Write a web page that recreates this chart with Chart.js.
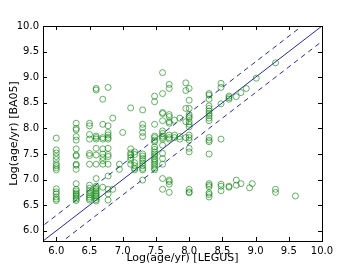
<!DOCTYPE html>
<html>
<head>
<meta charset="utf-8">
<script src="https://cdn.jsdelivr.net/npm/chart.js@4"></script>
<style>
  body { margin: 0; background: #fff; }
  canvas { display: block; }
</style>
</head>
<body>
<canvas id="chart" width="357" height="268"></canvas>
<script>
// LEGUS ages (x) come in columns; each column has its list of BA05 ages (y)
var legusCols = [6.0, 6.3, 6.5, 6.6, 6.7, 6.78, 6.85, 6.95, 7.0, 7.12, 7.18, 7.3, 7.48, 7.6, 7.7,
                 7.78, 7.86, 7.95, 8.0, 8.3, 8.48, 8.6, 8.71, 8.78, 8.86, 8.91, 8.95, 9.01, 9.3, 9.6];
var ba05ByCol = [
    [7.81, 7.58, 7.52, 7.45, 7.39, 7.31, 7.27, 7.23, 7.19, 6.82, 6.76, 6.72, 6.66, 6.62, 6.59],
    [8.10, 8.00, 7.97, 7.84, 7.77, 7.60, 7.48, 7.46, 7.30, 7.28, 7.20, 6.92, 6.81, 6.78, 6.74, 6.71, 6.68, 6.65, 6.62, 6.59],
    [8.10, 8.05, 7.88, 7.79, 7.51, 7.47, 7.30, 6.89, 6.83, 6.78, 6.74, 6.70, 6.66, 6.63, 6.60],
    [8.78, 8.75, 7.85, 7.82, 7.79, 7.61, 7.48, 7.30, 7.02, 6.87, 6.84, 6.81, 6.78, 6.74, 6.71, 6.68, 6.65, 6.61, 6.58],
    [8.57, 8.08, 7.82, 7.79, 7.60, 7.50, 7.43, 7.37, 7.30, 6.85],
    [8.80, 8.05, 7.92, 7.87, 7.82, 7.79, 7.61, 7.49, 7.45, 7.30, 7.07, 6.81, 6.72, 6.60],
    [8.20, 6.81],
    [7.30, 7.20],
    [7.92],
    [8.40, 7.60, 7.52, 7.48, 7.43, 7.38, 7.30],
    [7.54, 7.49, 7.33, 7.27, 7.22, 7.19],
    [8.36, 8.08, 8.01, 7.92, 7.84, 7.50, 7.46, 7.41, 7.37, 7.32, 7.27, 7.22, 7.19, 6.99],
    [8.63, 8.52, 8.08, 7.85, 7.82, 7.77, 7.74, 7.64, 7.59, 7.54, 7.50, 7.46, 7.41, 7.38, 7.34, 7.30, 7.26, 7.22, 7.19],
    [9.09, 8.68, 8.31, 8.29, 8.15, 7.95, 7.90, 7.85, 7.82, 7.79, 7.67, 7.51, 7.41, 7.30, 7.02, 6.81],
    [8.86, 8.78, 8.27, 8.23, 8.13, 8.10, 7.87, 7.82, 7.79, 6.99, 6.96, 6.91, 6.75],
    [8.16, 7.87, 7.82],
    [8.20, 7.84, 7.79],
    [8.89, 8.74, 8.39, 8.13, 7.82],
    [8.78, 8.55, 8.39, 8.27, 8.23, 8.20, 8.13, 8.08, 8.03, 7.87, 7.82, 7.77, 7.61, 7.54, 6.81, 6.76, 6.74],
    [8.68, 8.65, 8.57, 8.44, 8.39, 8.34, 8.29, 8.25, 8.20, 8.15, 7.82, 7.77, 7.74, 7.50, 6.92, 6.89, 6.86, 6.74, 6.71, 6.66],
    [8.88, 8.80, 8.48, 7.79, 6.91, 6.87, 6.78],
    [8.63, 8.60, 8.57, 6.87, 6.85],
    [8.62, 6.99, 6.89],
    [8.70, 6.92],
    [8.78],
    [6.84],
    [6.92],
    [8.98],
    [9.28, 6.81, 6.75],
    [6.68]
];

// one-to-one line and the +/- offset lines
var lineEnds = [5.5, 10.0];
var lineOffset = 0.3;

var axisMin = 5.8, axisMax = 10.0;
var xTicks = [6.0, 6.5, 7.0, 7.5, 8.0, 8.5, 9.0, 9.5, 10.0];
var yTicks = [6.0, 6.5, 7.0, 7.5, 8.0, 8.5, 9.0, 9.5, 10.0];

var points = [];
legusCols.forEach(function(x, i) {
    ba05ByCol[i].forEach(function(y) {
        points.push({x: x, y: y});
    });
});

function lineData(off) {
    return lineEnds.map(function(v) { return {x: v, y: v + off}; });
}

// matplotlib-style frame with inward ticks on all four sides
var frameTicks = {
    id: 'frameTicks',
    afterDatasetsDraw: function(chart) {
        var ctx = chart.ctx, a = chart.chartArea;
        var xs = chart.scales.x, ys = chart.scales.y;
        var len = 4;
        ctx.save();
        ctx.strokeStyle = '#000';
        ctx.lineWidth = 1;
        ctx.beginPath();
        xTicks.forEach(function(v) {
            var px = Math.round(xs.getPixelForValue(v)) + 0.5;
            ctx.moveTo(px, a.bottom); ctx.lineTo(px, a.bottom - len);
            ctx.moveTo(px, a.top); ctx.lineTo(px, a.top + len);
        });
        yTicks.forEach(function(v) {
            var py = Math.round(ys.getPixelForValue(v)) + 0.5;
            ctx.moveTo(a.left, py); ctx.lineTo(a.left + len, py);
            ctx.moveTo(a.right, py); ctx.lineTo(a.right - len, py);
        });
        ctx.stroke();
        ctx.strokeRect(Math.round(a.left) + 0.5, Math.round(a.top) + 0.5,
                       Math.round(a.right - a.left), Math.round(a.bottom - a.top));
        ctx.restore();
    }
};

var ctx = document.getElementById('chart').getContext('2d');
var chart = new Chart(ctx, {
    type: 'scatter',
    data: {
        datasets: [{
            label: 'clusters',
            data: points,
            showLine: false,
            pointStyle: 'circle',
            pointRadius: 3,
            pointBorderWidth: 1,
            borderColor: 'rgba(0,128,0,0.6)',
            backgroundColor: 'rgba(0,0,0,0)'
        }, {
            label: '1:1',
            type: 'line',
            data: lineData(0),
            borderColor: 'rgb(40,40,170)',
            borderWidth: 1,
            pointRadius: 0
        }, {
            label: '+off',
            type: 'line',
            data: lineData(lineOffset),
            borderColor: 'rgb(40,40,170)',
            borderWidth: 1,
            borderDash: [5, 4],
            pointRadius: 0
        }, {
            label: '-off',
            type: 'line',
            data: lineData(-lineOffset),
            borderColor: 'rgb(40,40,170)',
            borderWidth: 1,
            borderDash: [5, 4],
            pointRadius: 0
        }]
    },
    options: {
        responsive: false,
        animation: false,
        events: [],
        layout: { padding: { top: 26, right: 35, left: 0, bottom: 0 } },
        plugins: { legend: { display: false }, tooltip: { enabled: false } },
        scales: {
            x: {
                type: 'linear',
                min: axisMin,
                max: axisMax,
                grid: { display: false, drawTicks: false },
                border: { display: false },
                afterBuildTicks: function(scale) {
                    scale.ticks = xTicks.map(function(v) { return {value: v}; });
                },
                afterFit: function(scale) { scale.height = 27; },
                ticks: {
                    padding: 4,
                    maxRotation: 0,
                    color: '#000',
                    font: { family: 'DejaVu Sans', size: 10 },
                    callback: function(v) { return v.toFixed(1); }
                },
                title: {
                    display: true,
                    text: 'Log(age/yr) [LEGUS]',
                    color: '#000',
                    font: { family: 'DejaVu Sans', size: 11 },
                    padding: { top: 0, bottom: 3 }
                }
            },
            y: {
                type: 'linear',
                min: axisMin,
                max: axisMax,
                grid: { display: false, drawTicks: false },
                border: { display: false },
                afterBuildTicks: function(scale) {
                    scale.ticks = yTicks.map(function(v) { return {value: v}; });
                },
                afterFit: function(scale) { scale.width = 43; },
                ticks: {
                    padding: 4,
                    color: '#000',
                    font: { family: 'DejaVu Sans', size: 10 },
                    callback: function(v) { return v.toFixed(1); }
                },
                title: {
                    display: true,
                    text: 'Log(age/yr) [BA05]',
                    color: '#000',
                    font: { family: 'DejaVu Sans', size: 11 },
                    padding: { top: 8, bottom: 0 }
                }
            }
        }
    },
    plugins: [frameTicks]
});
</script>
</body>
</html>
